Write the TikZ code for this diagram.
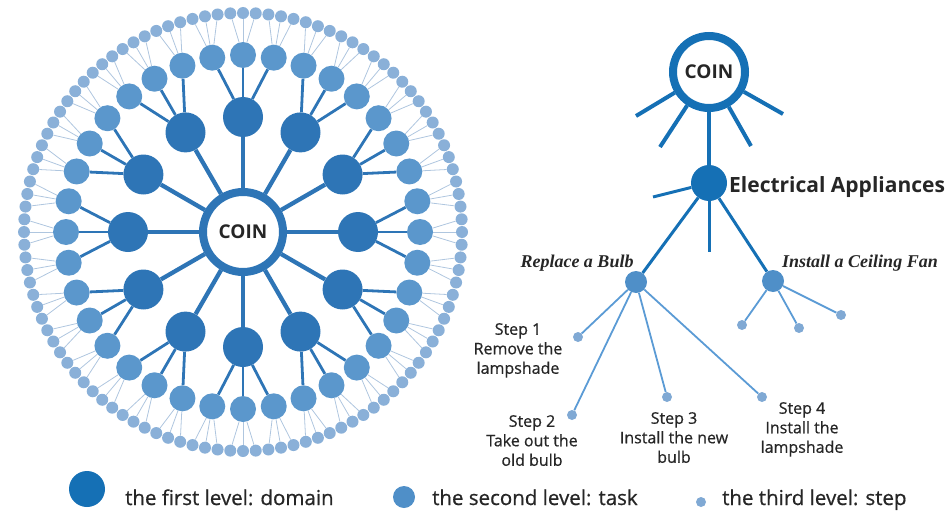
\documentclass[tikz,border=0pt]{standalone}
\usepackage{fontspec}
\setmainfont{Open Sans}
\newfontfamily\medfont[FakeBold=0.7]{Open Sans}
\newfontfamily\timesfont{Liberation Serif}
\usepackage{xcolor}
\usetikzlibrary{shapes}
\usetikzlibrary{arrows.meta}

\definecolor{coinblue}{HTML}{2E75B6}
\definecolor{domainblue}{HTML}{2E75B6}
\definecolor{taskblue}{HTML}{5B97CC}
\definecolor{stepblue}{HTML}{8AB0D8}
\definecolor{twigblue}{HTML}{AFC6DF}
\definecolor{darkblue}{HTML}{1570B5}
\definecolor{midblue}{HTML}{4F8FC8}
\definecolor{lineblue}{HTML}{5B9BD5}
\definecolor{dotblue}{HTML}{80A9D4}
\definecolor{textgray}{HTML}{262626}

\begin{document}
\begin{tikzpicture}[x=1pt, y=-1pt,
	coinring/.style={fill=white, shape=circle, inner sep=0pt, text=textgray, font=\fontsize{19}{19}\selectfont\bfseries},
	domainnode/.style={fill=domainblue, shape=circle, minimum size=40pt, inner sep=0pt},
	tasknode/.style={fill=taskblue, shape=circle, minimum size=26pt, inner sep=0pt},
	stepnode/.style={fill=stepblue, shape=circle, minimum size=12pt, inner sep=0pt},
	trunk/.style={draw=domainblue, line width=4.3pt},
	branch/.style={draw=domainblue, line width=2.8pt},
	twig/.style={draw=twigblue, line width=0.8pt},
	stub/.style={draw=darkblue, line width=4pt},
	stepline/.style={draw=lineblue, line width=1.8pt},
	steptext/.style={align=center, inner sep=0pt, anchor=north, text=textgray, font=\fontsize{16}{19.5}\selectfont\medfont},
	tasktext/.style={inner sep=0pt, text=textgray, font=\fontsize{18}{18}\selectfont\timesfont\bfseries\itshape},
	legendtext/.style={inner sep=0pt, anchor=base west, text=textgray, font=\fontsize{20.5}{20.5}\selectfont\medfont}]
	\useasboundingbox (0,0) rectangle (950,511);

	% radial tree
	\begin{scope}[shift={(243,232)}]
		\node [coinring, draw=coinblue, line width=8pt, minimum size=80pt] (0) at (0,0) {COIN};
		\foreach \i in {0,...,11} {
			\node [domainnode] (1-\i) at ({90+30*\i}:115) {};
			\draw [trunk] (0) to (1-\i);
			\foreach \j in {1,2,3} {
				\node [tasknode] (2-\i-\j) at ({90+30*\i+10*(\j-2)}:177) {};
				\draw [branch] (1-\i) to (2-\i-\j);
				\foreach \k in {1,2,3} {
					\node [stepnode] (3-\i-\j-\k) at ({90+30*\i+10*(\j-2)+10/3*(\k-2)}:219) {};
					\draw [twig] (2-\i-\j) to (3-\i-\j-\k);
				}
			}
		}
	\end{scope}

	% example tree
	\node [coinring, draw=darkblue, line width=8pt, minimum size=72pt] (4) at (709,72) {COIN};
	\coordinate (4a) at (636,116);
	\coordinate (4b) at (660,147);
	\coordinate (4c) at (751,146);
	\coordinate (4d) at (783,114);
	\node [fill=darkblue, shape=circle, minimum size=36pt, inner sep=0pt] (5) at (709,183) {};
	\coordinate (5a) at (653,197);
	\coordinate (5b) at (709,252);
	\node [fill=midblue, shape=circle, minimum size=22pt, inner sep=0pt] (6) at (636,282) {};
	\node [fill=midblue, shape=circle, minimum size=22pt, inner sep=0pt] (7) at (773,281) {};
	\node [fill=dotblue, shape=circle, minimum size=10pt, inner sep=0pt] (8) at (578,337) {};
	\node [fill=dotblue, shape=circle, minimum size=10pt, inner sep=0pt] (9) at (572,415) {};
	\node [fill=dotblue, shape=circle, minimum size=10pt, inner sep=0pt] (10) at (667,397) {};
	\node [fill=dotblue, shape=circle, minimum size=10pt, inner sep=0pt] (11) at (762,397) {};
	\node [fill=dotblue, shape=circle, minimum size=10pt, inner sep=0pt] (12) at (742,325) {};
	\node [fill=dotblue, shape=circle, minimum size=10pt, inner sep=0pt] (13) at (799,328) {};
	\node [fill=dotblue, shape=circle, minimum size=10pt, inner sep=0pt] (14) at (841,315) {};
	\draw [stub] (4) to (4a);
	\draw [stub] (4) to (4b);
	\draw [stub] (4) to (4c);
	\draw [stub] (4) to (4d);
	\draw [stub] (4) to (5);
	\draw [stub, line width=3pt] (5) to (5a);
	\draw [stub, line width=3pt] (5) to (5b);
	\draw [stub, line width=3pt] (5) to (6);
	\draw [stub, line width=3pt] (5) to (7);
	\foreach \s in {8,9,10,11} {
		\draw [stepline] (6) to (\s);
	}
	\foreach \s in {12,13,14} {
		\draw [stepline] (7) to (\s);
	}
	\node [inner sep=0pt, anchor=base west, text=textgray, font=\fontsize{21}{21}\selectfont\bfseries] (5t) at (729,192) {Electrical Appliances};
	\node [tasktext, anchor=base] (6t) at (577,267) {Replace a Bulb};
	\node [tasktext, anchor=base west] (7t) at (782,267) {Install a Ceiling Fan};
	\node [steptext] (8t) at (518,323) {Step 1\\Remove the\\lampshade};
	\node [steptext] (9t) at (532,415) {Step 2\\Take out the\\old bulb};
	\node [steptext] (10t) at (674,412) {Step 3\\Install the new\\bulb};
	\node [steptext] (11t) at (802,402) {Step 4\\Install the\\lampshade};

	% legend
	\node [fill=darkblue, shape=circle, minimum size=36pt, inner sep=0pt] (15) at (87,489) {};
	\node [fill=midblue, shape=circle, minimum size=22pt, inner sep=0pt] (16) at (404,497) {};
	\node [fill=dotblue, shape=circle, minimum size=10pt, inner sep=0pt] (17) at (701,502) {};
	\node [legendtext] (15t) at (125,505) {the first level: domain};
	\node [legendtext] (16t) at (432,505) {the second level: task};
	\node [legendtext] (17t) at (722,505) {the third level: step};
\end{tikzpicture}
\end{document}
